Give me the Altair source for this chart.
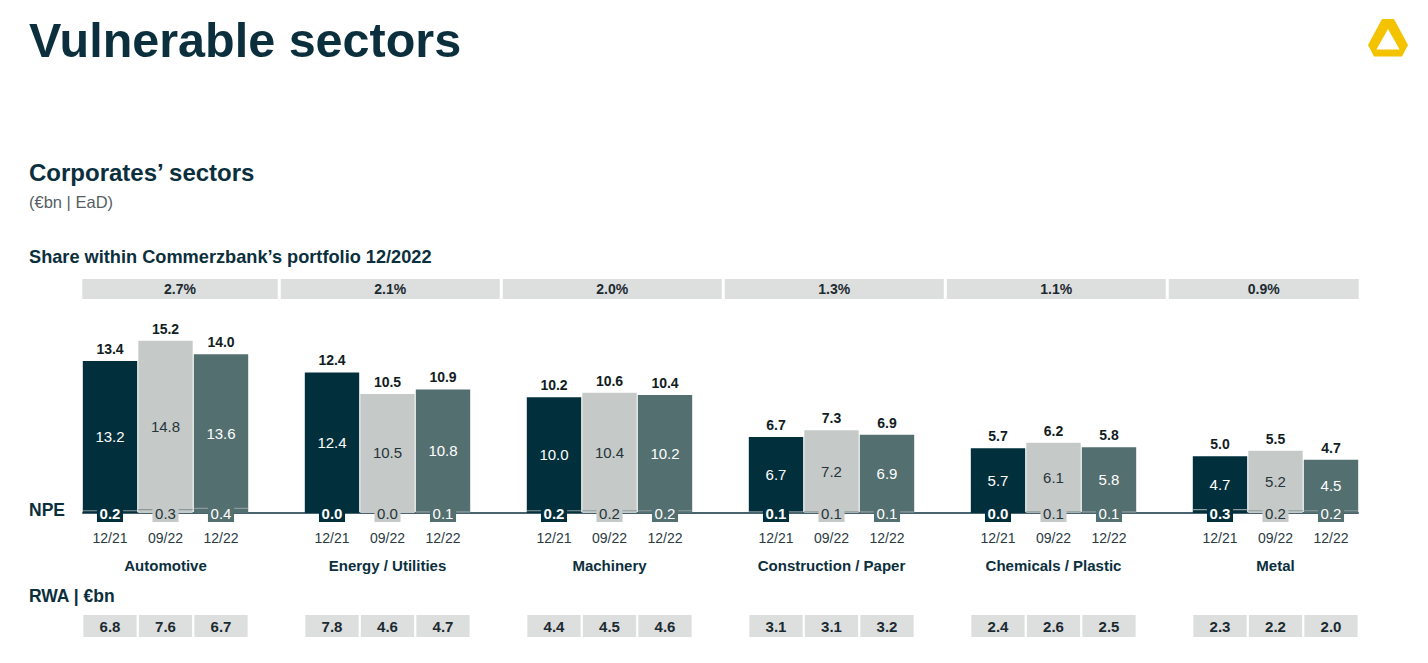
import altair as alt
import pandas as pd

sectors = ["Automotive", "Energy / Utilities", "Machinery", "Construction / Paper", "Chemicals / Plastic", "Metal"]
periods = ["12/21", "09/22", "12/22"]
share = ["2.7%", "2.1%", "2.0%", "1.3%", "1.1%", "0.9%"]
total = [[13.4, 15.2, 14.0], [12.4, 10.5, 10.9], [10.2, 10.6, 10.4], [6.7, 7.3, 6.9], [5.7, 6.2, 5.8], [5.0, 5.5, 4.7]]
performing = [[13.2, 14.8, 13.6], [12.4, 10.5, 10.8], [10.0, 10.4, 10.2], [6.7, 7.2, 6.9], [5.7, 6.1, 5.8], [4.7, 5.2, 4.5]]
npe = [[0.2, 0.3, 0.4], [0.0, 0.0, 0.1], [0.2, 0.2, 0.2], [0.1, 0.1, 0.1], [0.0, 0.1, 0.1], [0.3, 0.2, 0.2]]
rwa = [[6.8, 7.6, 6.7], [7.8, 4.6, 4.7], [4.4, 4.5, 4.6], [3.1, 3.1, 3.2], [2.4, 2.6, 2.5], [2.3, 2.2, 2.0]]

bar_colors = ["#022f3c", "#c5cac8", "#546f70"]
inner_text = ["#ffffff", "#25343a", "#ffffff"]
npe_weight = ["bold", "normal", "normal"]
DARK = "#0b2f3d"
FONT = "Liberation Sans"

# layout
W, H = 1412, 645
X0, UNIT = 102, 55.5
Y0, PXV = 505, 11.34
GROUP = 4

rows = []
for g, s in enumerate(sectors):
    for p, per in enumerate(periods):
        u = g * GROUP + p
        rows.append(dict(sector=s, period=per, u=u, xl=u - 0.49, xr=u + 0.49,
                         nl=u - 0.235, nr=u + 0.235, rl=u - 0.48, rr=u + 0.48,
                         total=total[g][p], perf=performing[g][p], mid=total[g][p] / 2,
                         npe=npe[g][p], rwa=rwa[g][p], tcol=inner_text[p], nw=npe_weight[p]))
df = pd.DataFrame(rows)

srows = []
for g, s in enumerate(sectors):
    left = -0.5 if g == 0 else (g - 1) * GROUP + 3.05 + 0.027
    right = 22.5 if g == len(sectors) - 1 else g * GROUP + 3.05 - 0.027
    srows.append(dict(sector=s, share=share[g], c=g * GROUP + 1, sl=left, sr=right,
                      sc=(left + right) / 2))
sdf = pd.DataFrame(srows)

xs = alt.Scale(domain=[-X0 / UNIT, (W - X0) / UNIT], range=[0, W], nice=False, zero=False)
ys = alt.Scale(domain=[-(H - Y0) / PXV, Y0 / PXV], range=[H, 0], nice=False, zero=False)


def X(f):
    return alt.X(f, scale=xs, axis=None)


def Y(f):
    return alt.Y(f, scale=ys, axis=None)


one = pd.DataFrame({"a": [-0.5], "b": [22.5], "z": [0.0]})
base = alt.Chart(df)
pcolor = alt.Color("period:N", scale=alt.Scale(domain=periods, range=bar_colors), legend=None)

baseline = alt.Chart(one).mark_rule(color=DARK, strokeWidth=1.5).encode(
    x=X("a:Q"), x2="b:Q", y=Y("z:Q"))

bars = base.mark_bar().encode(
    x=X("xl:Q"), x2="xr:Q", y=Y("total:Q"), y2=alt.datum(0), color=pcolor)

npe_line = base.transform_filter("datum.npe > 0").mark_rule(color="#8c9a9d", strokeWidth=1.2).encode(
    x=X("xl:Q"), x2="xr:Q", y=Y("npe:Q"))

top_lbl = base.mark_text(font=FONT, fontSize=14, fontWeight="bold", color="#111d22",
                         baseline="bottom", dy=-4).encode(
    x=X("u:Q"), y=Y("total:Q"), text=alt.Text("total:Q", format=".1f"))

inner_lbl = base.mark_text(font=FONT, fontSize=15, baseline="middle").encode(
    x=X("u:Q"), y=Y("mid:Q"), text=alt.Text("perf:Q", format=".1f"),
    color=alt.Color("tcol:N", scale=None))

npe_box = base.mark_rect().encode(
    x=X("nl:Q"), x2="nr:Q", y=alt.value(499), y2=alt.value(514), color=pcolor)

npe_lbl_b = base.transform_filter("datum.nw == 'bold'").mark_text(
    font=FONT, fontSize=15, fontWeight="bold", baseline="middle").encode(
    x=X("u:Q"), y=alt.value(506), text=alt.Text("npe:Q", format=".1f"),
    color=alt.Color("tcol:N", scale=None))

npe_lbl_n = base.transform_filter("datum.nw != 'bold'").mark_text(
    font=FONT, fontSize=15, baseline="middle").encode(
    x=X("u:Q"), y=alt.value(506), text=alt.Text("npe:Q", format=".1f"),
    color=alt.Color("tcol:N", scale=None))

per_lbl = base.mark_text(font=FONT, fontSize=14, color="#2b3a42", baseline="middle").encode(
    x=X("u:Q"), y=alt.value(531), text="period:N")

sec_lbl = alt.Chart(sdf).mark_text(font=FONT, fontSize=15, fontWeight="bold", color=DARK,
                                   baseline="middle").encode(
    x=X("c:Q"), y=alt.value(558), text="sector:N")

share_box = alt.Chart(sdf).mark_rect(color="#dcdfdd").encode(
    x=X("sl:Q"), x2="sr:Q", y=alt.value(271), y2=alt.value(291))

share_lbl = alt.Chart(sdf).mark_text(font=FONT, fontSize=14, fontWeight="bold", color="#1c2a31",
                                     baseline="middle").encode(
    x=X("sc:Q"), y=alt.value(282), text="share:N")

rwa_box = base.mark_rect(color="#dcdfdd").encode(
    x=X("rl:Q"), x2="rr:Q", y=alt.value(607), y2=alt.value(629))

rwa_lbl = base.mark_text(font=FONT, fontSize=15, fontWeight="bold", color="#1c2a31",
                         baseline="middle").encode(
    x=X("u:Q"), y=alt.value(619), text=alt.Text("rwa:Q", format=".1f"))

dummy = pd.DataFrame({"k": [0]})


def label(text, x, y, size, weight="bold", color=DARK, baseline="alphabetic"):
    return alt.Chart(dummy).mark_text(text=text, font=FONT, fontSize=size, fontWeight=weight,
                                      color=color, align="left", baseline=baseline).encode(
        x=alt.value(x), y=alt.value(y))


title = label("Vulnerable sectors", 21, 49, 48.5)
sub1 = label("Corporates\u2019 sectors", 21, 173, 24)
sub2 = label("(\u20acbn | EaD)", 21, 200, 16.5, weight="normal", color="#555f63")
sub3 = label("Share within Commerzbank\u2019s portfolio 12/2022", 21, 255, 18.2)
npe_t = label("NPE", 21, 503, 17.5, baseline="middle")
rwa_t = label("RWA | \u20acbn", 21, 589, 17.5, baseline="middle")

logo_path = ("M -0.3 -0.95 L 0.3 -0.95 L 1 0.35 L 0.7 0.92 L -0.7 0.92 L -1 0.35 Z "
             "M 0 -0.45 L -0.58 0.58 L 0.58 0.58 Z")
logo = alt.Chart(dummy).mark_point(shape=logo_path, filled=True, fill="#f3c300", opacity=1,
                                   size=1600, strokeWidth=0).encode(
    x=alt.value(1380), y=alt.value(30))

chart = alt.layer(
    share_box, share_lbl, baseline, bars, npe_line, top_lbl, inner_lbl, npe_box,
    npe_lbl_b, npe_lbl_n, per_lbl, sec_lbl, rwa_box, rwa_lbl,
    title, sub1, sub2, sub3, npe_t, rwa_t, logo
).properties(
    width=W, height=H, padding=0, autosize=alt.AutoSizeParams(type="none"),
    background="white"
).configure_view(stroke=None)

chart.save("out.html", embed_options={"renderer": "svg", "actions": False})
